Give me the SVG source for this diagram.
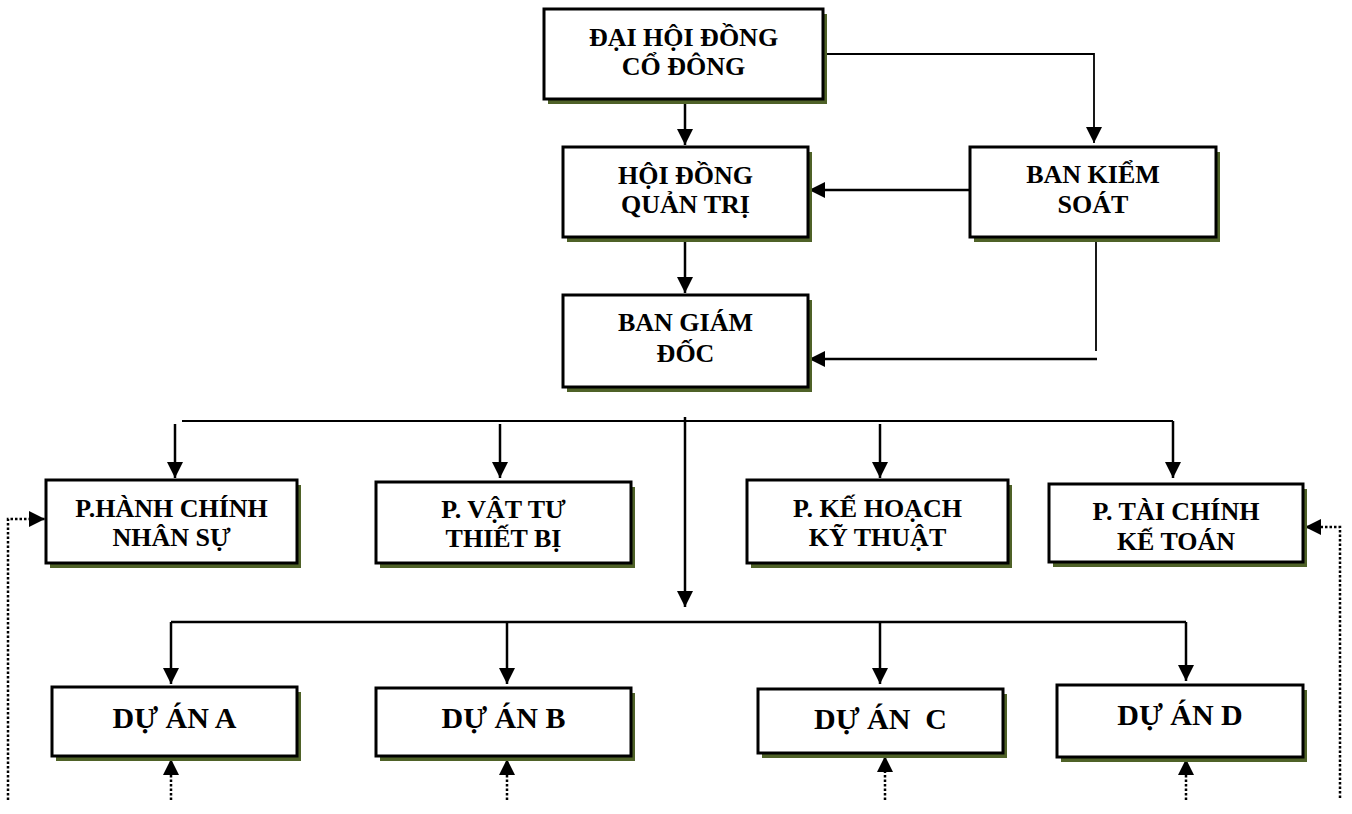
<svg xmlns="http://www.w3.org/2000/svg" width="1352" height="814" viewBox="0 0 1352 814">
<defs>
<marker id="ah" markerUnits="userSpaceOnUse" markerWidth="16" markerHeight="16" refX="16" refY="8" orient="auto">
<path d="M0,0 L16,8 L0,16 Z" fill="#000"/>
</marker>
</defs>
<style>
.box{fill:#fff;stroke:#000;stroke-width:3}
.sh{fill:#4f6228}
.t{font-family:"Liberation Serif","Times New Roman",Times,"Noto Serif","DejaVu Serif",serif;font-weight:700;font-size:26px;fill:#000;text-anchor:middle}
.tb{font-size:30px;white-space:pre}
.ln{fill:none;stroke:#000;stroke-width:2.5}
.thin{fill:none;stroke:#000;stroke-width:1.8}
.dot{fill:none;stroke:#000;stroke-width:2.5;stroke-dasharray:2.5 2}
.arr{marker-end:url(#ah)}
</style>
<rect width="1352" height="814" fill="#fff"/>

<g id="connectors">
<line class="ln arr" x1="685" y1="101" x2="685" y2="145"/>
<polyline class="thin arr" points="823,54 1094,54 1094,143"/>
<line class="ln arr" x1="970" y1="190" x2="809" y2="190"/>
<line class="ln arr" x1="685" y1="239" x2="685" y2="293"/>
<line class="thin" x1="1096" y1="231" x2="1096" y2="351"/>
<line class="ln arr" x1="1097" y1="359" x2="809" y2="359"/>
<line class="thin" x1="182" y1="421" x2="1173" y2="421"/>
<line class="ln arr" x1="685" y1="417" x2="685" y2="607"/>
<line class="ln arr" x1="175" y1="424" x2="175" y2="478"/>
<line class="ln arr" x1="500" y1="424" x2="500" y2="478"/>
<line class="ln arr" x1="880" y1="424" x2="880" y2="478"/>
<line class="ln arr" x1="1173" y1="421" x2="1173" y2="478"/>
<line class="ln" x1="171" y1="622" x2="1186" y2="622"/>
<line class="ln arr" x1="171" y1="622" x2="171" y2="684"/>
<line class="ln arr" x1="507" y1="622" x2="507" y2="684"/>
<line class="ln arr" x1="880" y1="622" x2="880" y2="684"/>
<line class="ln arr" x1="1186" y1="622" x2="1186" y2="681"/>
<polyline class="dot arr" points="8,800 8,519 45,519"/>
<polyline class="dot arr" points="1340,798 1340,527 1305,527"/>
<line class="dot arr" x1="171" y1="800" x2="171" y2="759"/>
<line class="dot arr" x1="507" y1="800" x2="507" y2="759"/>
<line class="dot arr" x1="885" y1="800" x2="885" y2="756"/>
<line class="dot arr" x1="1186" y1="800" x2="1186" y2="759"/>
</g>

<g id="dai-hoi-dong-co-dong">
<rect class="sh" x="548" y="14" width="279" height="90"/>
<rect class="box" x="544" y="9" width="279" height="90"/>
<text class="t" x="683.5" y="46">ĐẠI HỘI ĐỒNG</text>
<text class="t" x="683.5" y="75">CỔ ĐÔNG</text>
</g>

<g id="hoi-dong-quan-tri">
<rect class="sh" x="567" y="152" width="245" height="90"/>
<rect class="box" x="563" y="147" width="245" height="90"/>
<text class="t" x="685.5" y="184">HỘI ĐỒNG</text>
<text class="t" x="685.5" y="213">QUẢN TRỊ</text>
</g>

<g id="ban-kiem-soat">
<rect class="sh" x="974" y="152" width="246" height="90"/>
<rect class="box" x="970" y="147" width="246" height="90"/>
<text class="t" x="1093" y="183">BAN KIỂM</text>
<text class="t" x="1093" y="213">SOÁT</text>
</g>

<g id="ban-giam-doc">
<rect class="sh" x="567" y="300" width="245" height="92"/>
<rect class="box" x="563" y="295" width="245" height="92"/>
<text class="t" x="685.5" y="331">BAN GIÁM</text>
<text class="t" x="685.5" y="362">ĐỐC</text>
</g>

<g id="p-hanh-chinh">
<rect class="sh" x="50" y="485" width="251" height="83"/>
<rect class="box" x="46" y="480" width="251" height="83"/>
<text class="t" x="171.5" y="517">P.HÀNH CHÍNH</text>
<text class="t" x="171.5" y="546">NHÂN SỰ</text>
</g>

<g id="p-vat-tu">
<rect class="sh" x="380" y="487" width="255" height="81"/>
<rect class="box" x="376" y="482" width="255" height="81"/>
<text class="t" x="503.5" y="518">P. VẬT TƯ</text>
<text class="t" x="503.5" y="547">THIẾT BỊ</text>
</g>

<g id="p-ke-hoach">
<rect class="sh" x="751" y="485" width="261" height="83"/>
<rect class="box" x="747" y="480" width="261" height="83"/>
<text class="t" x="877.5" y="517">P. KẾ HOẠCH</text>
<text class="t" x="877.5" y="546">KỸ THUẬT</text>
</g>

<g id="p-tai-chinh">
<rect class="sh" x="1053" y="489" width="254" height="78"/>
<rect class="box" x="1049" y="484" width="254" height="78"/>
<text class="t" x="1176" y="520">P. TÀI CHÍNH</text>
<text class="t" x="1176" y="550">KẾ TOÁN</text>
</g>

<g id="du-an-a">
<rect class="sh" x="56" y="692" width="245" height="69"/>
<rect class="box" x="52" y="687" width="245" height="69"/>
<text class="t tb" x="174.5" y="728">DỰ ÁN A</text>
</g>

<g id="du-an-b">
<rect class="sh" x="380" y="693" width="255" height="68"/>
<rect class="box" x="376" y="688" width="255" height="68"/>
<text class="t tb" x="503.5" y="728">DỰ ÁN B</text>
</g>

<g id="du-an-c">
<rect class="sh" x="762" y="694" width="245" height="64"/>
<rect class="box" x="758" y="689" width="245" height="64"/>
<text class="t tb" x="880.5" y="729">DỰ ÁN  C</text>
</g>

<g id="du-an-d">
<rect class="sh" x="1061" y="690" width="246" height="72"/>
<rect class="box" x="1057" y="685" width="246" height="72"/>
<text class="t tb" x="1180" y="725">DỰ ÁN D</text>
</g>
</svg>
